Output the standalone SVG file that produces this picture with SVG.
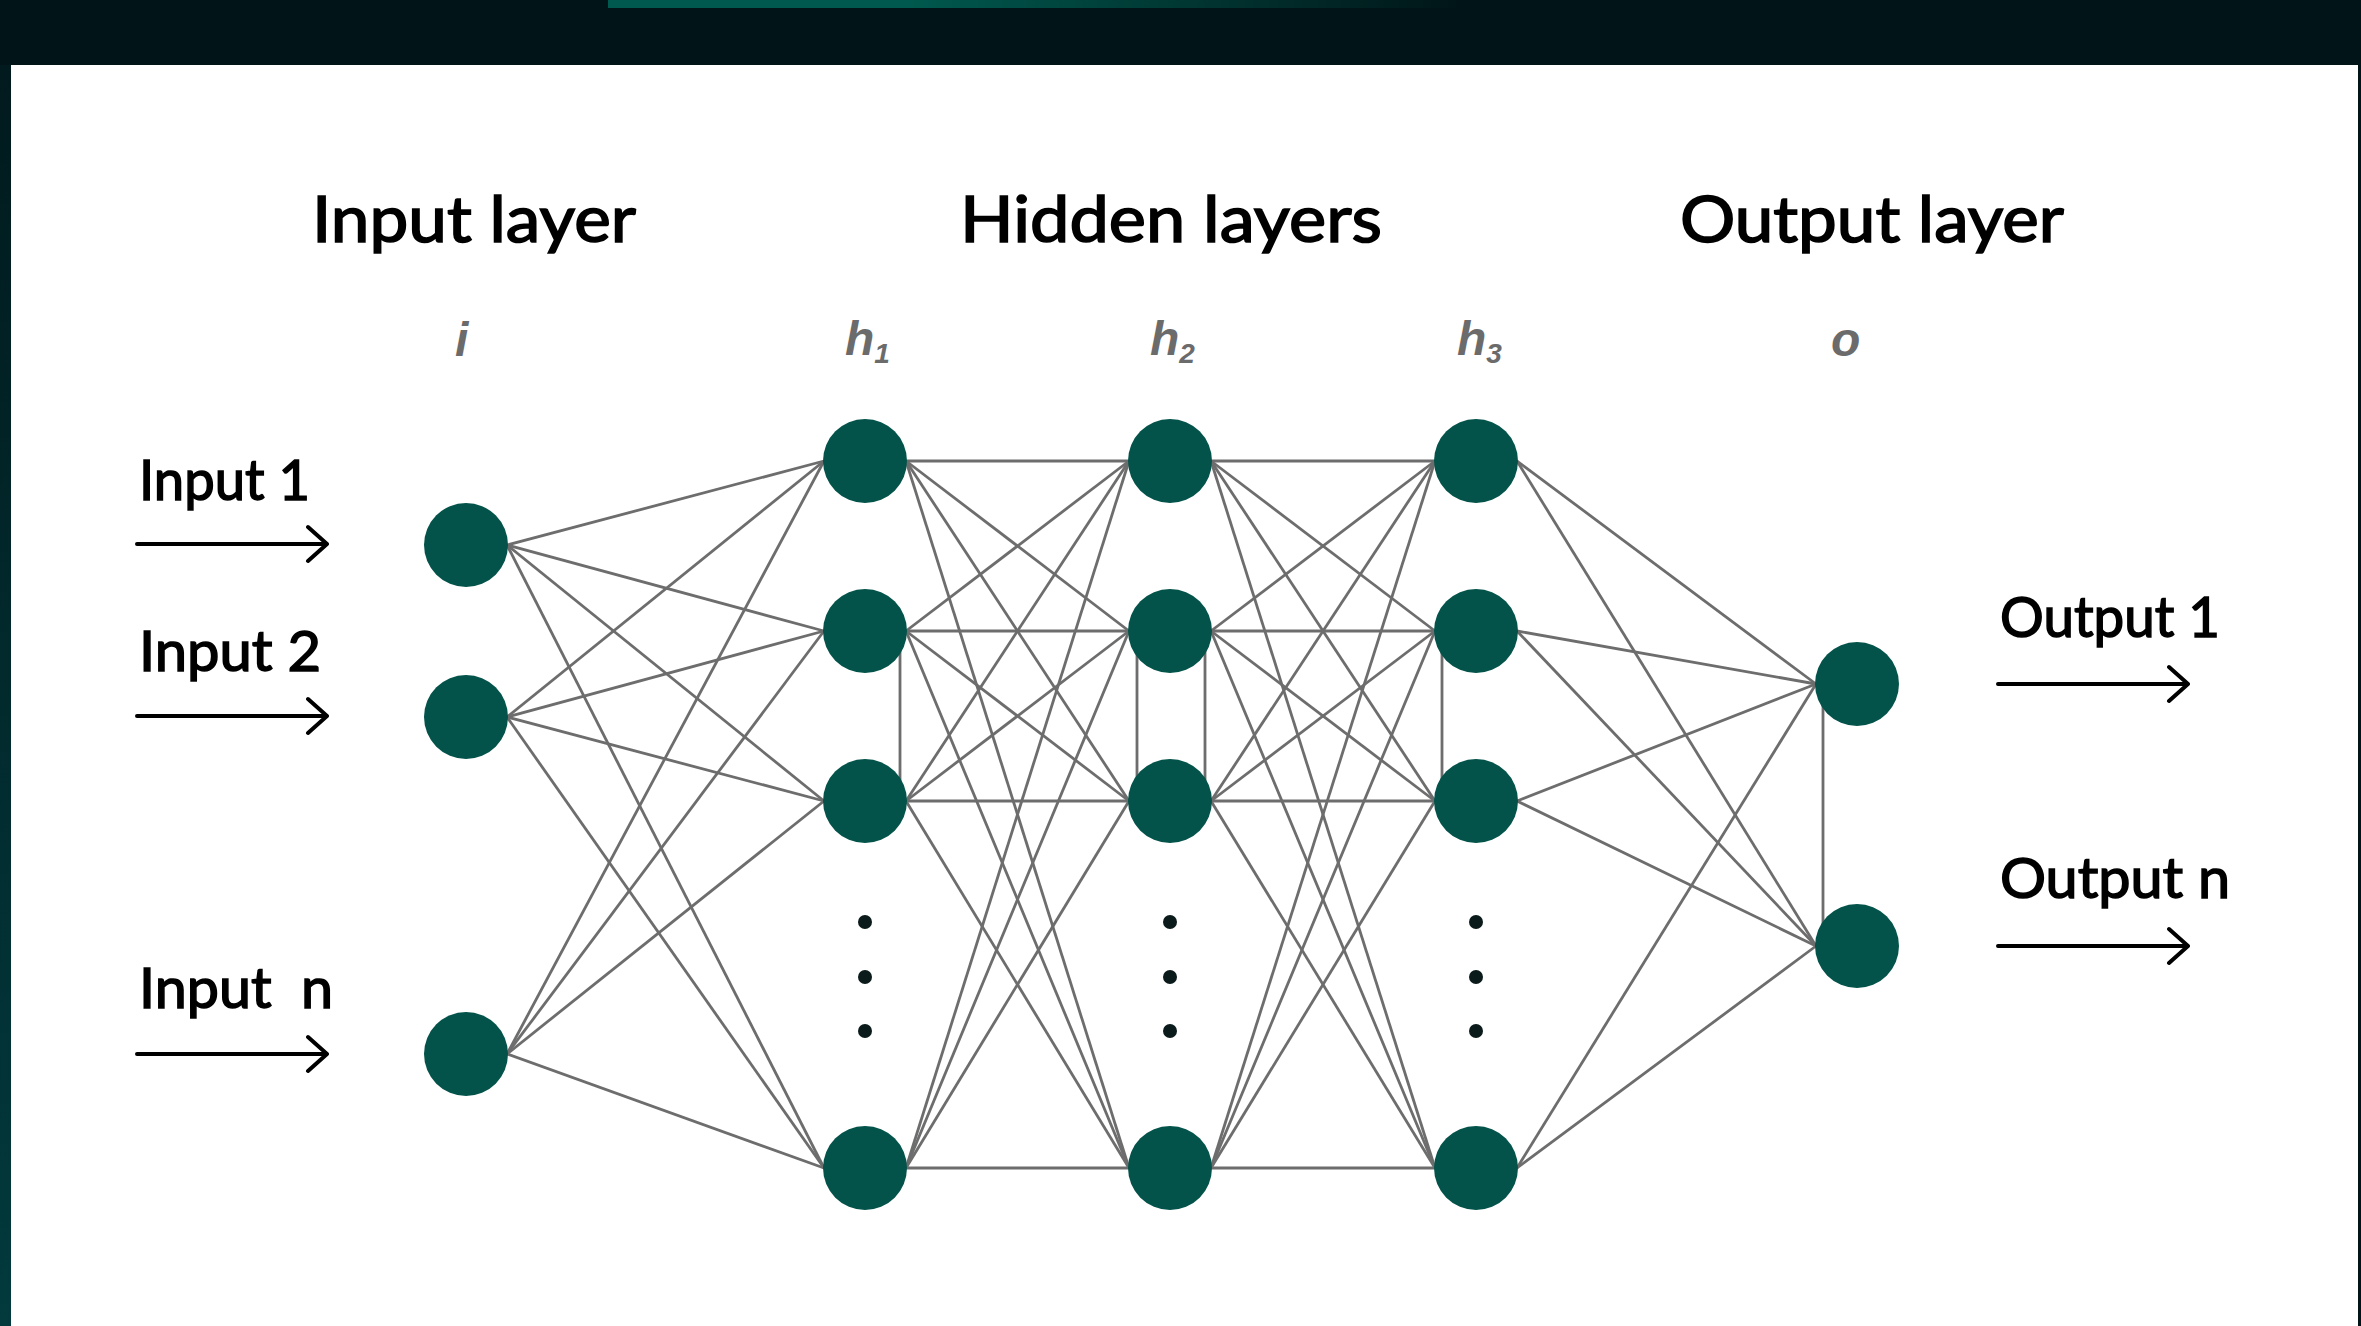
<svg xmlns="http://www.w3.org/2000/svg" width="2361" height="1326" viewBox="0 0 2361 1326">
<defs>
<linearGradient id="topbar" x1="0" y1="0" x2="1" y2="0">
<stop offset="0" stop-color="#00594e"/>
<stop offset="0.35" stop-color="#00594e"/>
<stop offset="1" stop-color="#00594e" stop-opacity="0"/>
</linearGradient>
<linearGradient id="leftstrip" x1="0" y1="0" x2="0" y2="1">
<stop offset="0" stop-color="#011a1d"/>
<stop offset="1" stop-color="#023a3d"/>
</linearGradient>
<style>
.edge{stroke:#6d6d6d;stroke-width:2.8;fill:none}
.node{fill:#03534a}
.dot{fill:#0b1a1a}
.head{font-family:Lato,"Liberation Sans",sans-serif;font-size:64px;fill:#000;stroke:#000;stroke-width:1.6}
.lbl{font-family:Lato,"Liberation Sans",sans-serif;font-size:56px;fill:#000;stroke:#000;stroke-width:1.5}
.sym{font-family:"Liberation Sans",Arial,sans-serif;font-size:48px;font-style:italic;font-weight:bold;fill:#6b6b6b}
.sub{font-size:28px}
.arrow{stroke:#000;stroke-width:4;fill:none;stroke-linecap:round;stroke-linejoin:round}
</style>
</defs>
<rect x="0" y="0" width="2361" height="1326" fill="#011417"/>
<rect x="608" y="0" width="860" height="8" fill="url(#topbar)"/>
<rect x="0" y="65" width="11" height="1261" fill="url(#leftstrip)"/>
<rect x="11" y="65" width="2347" height="1261" fill="#ffffff"/>

<g id="titles">
<text class="head" x="312" y="242" textLength="324" lengthAdjust="spacingAndGlyphs">Input layer</text>
<text class="head" x="960" y="242" textLength="422" lengthAdjust="spacingAndGlyphs">Hidden layers</text>
<text class="head" x="1680" y="242" textLength="384" lengthAdjust="spacingAndGlyphs">Output layer</text>
</g>
<g id="layer-symbols">
<text class="sym" x="455" y="356">i</text>
<text class="sym" x="845" y="355">h<tspan class="sub" dy="8">1</tspan></text>
<text class="sym" x="1150" y="355">h<tspan class="sub" dy="8">2</tspan></text>
<text class="sym" x="1457" y="355">h<tspan class="sub" dy="8">3</tspan></text>
<text class="sym" x="1831" y="356">o</text>
</g>

<g id="connectors">
<line class="edge" x1="507" y1="545" x2="824" y2="461"/>
<line class="edge" x1="507" y1="545" x2="824" y2="631"/>
<line class="edge" x1="507" y1="545" x2="824" y2="801"/>
<line class="edge" x1="507" y1="545" x2="824" y2="1168"/>
<line class="edge" x1="507" y1="717" x2="824" y2="461"/>
<line class="edge" x1="507" y1="717" x2="824" y2="631"/>
<line class="edge" x1="507" y1="717" x2="824" y2="801"/>
<line class="edge" x1="507" y1="717" x2="824" y2="1168"/>
<line class="edge" x1="507" y1="1054" x2="824" y2="461"/>
<line class="edge" x1="507" y1="1054" x2="824" y2="631"/>
<line class="edge" x1="507" y1="1054" x2="824" y2="801"/>
<line class="edge" x1="507" y1="1054" x2="824" y2="1168"/>
<line class="edge" x1="906" y1="461" x2="1129" y2="461"/>
<line class="edge" x1="906" y1="461" x2="1129" y2="631"/>
<line class="edge" x1="906" y1="461" x2="1129" y2="801"/>
<line class="edge" x1="906" y1="461" x2="1129" y2="1168"/>
<line class="edge" x1="906" y1="631" x2="1129" y2="461"/>
<line class="edge" x1="906" y1="631" x2="1129" y2="631"/>
<line class="edge" x1="906" y1="631" x2="1129" y2="801"/>
<line class="edge" x1="906" y1="631" x2="1129" y2="1168"/>
<line class="edge" x1="906" y1="801" x2="1129" y2="461"/>
<line class="edge" x1="906" y1="801" x2="1129" y2="631"/>
<line class="edge" x1="906" y1="801" x2="1129" y2="801"/>
<line class="edge" x1="906" y1="801" x2="1129" y2="1168"/>
<line class="edge" x1="906" y1="1168" x2="1129" y2="461"/>
<line class="edge" x1="906" y1="1168" x2="1129" y2="631"/>
<line class="edge" x1="906" y1="1168" x2="1129" y2="801"/>
<line class="edge" x1="906" y1="1168" x2="1129" y2="1168"/>
<line class="edge" x1="1211" y1="461" x2="1435" y2="461"/>
<line class="edge" x1="1211" y1="461" x2="1435" y2="631"/>
<line class="edge" x1="1211" y1="461" x2="1435" y2="801"/>
<line class="edge" x1="1211" y1="461" x2="1435" y2="1168"/>
<line class="edge" x1="1211" y1="631" x2="1435" y2="461"/>
<line class="edge" x1="1211" y1="631" x2="1435" y2="631"/>
<line class="edge" x1="1211" y1="631" x2="1435" y2="801"/>
<line class="edge" x1="1211" y1="631" x2="1435" y2="1168"/>
<line class="edge" x1="1211" y1="801" x2="1435" y2="461"/>
<line class="edge" x1="1211" y1="801" x2="1435" y2="631"/>
<line class="edge" x1="1211" y1="801" x2="1435" y2="801"/>
<line class="edge" x1="1211" y1="801" x2="1435" y2="1168"/>
<line class="edge" x1="1211" y1="1168" x2="1435" y2="461"/>
<line class="edge" x1="1211" y1="1168" x2="1435" y2="631"/>
<line class="edge" x1="1211" y1="1168" x2="1435" y2="801"/>
<line class="edge" x1="1211" y1="1168" x2="1435" y2="1168"/>
<line class="edge" x1="1517" y1="461" x2="1816" y2="684"/>
<line class="edge" x1="1517" y1="461" x2="1816" y2="946"/>
<line class="edge" x1="1517" y1="631" x2="1816" y2="684"/>
<line class="edge" x1="1517" y1="631" x2="1816" y2="946"/>
<line class="edge" x1="1517" y1="801" x2="1816" y2="684"/>
<line class="edge" x1="1517" y1="801" x2="1816" y2="946"/>
<line class="edge" x1="1517" y1="1168" x2="1816" y2="684"/>
<line class="edge" x1="1517" y1="1168" x2="1816" y2="946"/>
<line class="edge" x1="900" y1="631" x2="900" y2="801"/>
<line class="edge" x1="1137" y1="631" x2="1137" y2="801"/>
<line class="edge" x1="1205" y1="631" x2="1205" y2="801"/>
<line class="edge" x1="1442" y1="631" x2="1442" y2="801"/>
<line class="edge" x1="1823" y1="684" x2="1823" y2="946"/>
</g>

<g id="input-1"><text class="lbl" x="139" y="500" textLength="171" lengthAdjust="spacingAndGlyphs">Input 1</text><path class="arrow" d="M137 544H327M308 527L327 544L308 561"/><circle class="node" cx="466" cy="545" r="42"/></g>
<g id="input-2"><text class="lbl" x="139" y="671" textLength="182" lengthAdjust="spacingAndGlyphs">Input 2</text><path class="arrow" d="M137 716H327M308 699L327 716L308 733"/><circle class="node" cx="466" cy="717" r="42"/></g>
<g id="input-n"><text class="lbl" x="139" y="1008" textLength="194" lengthAdjust="spacingAndGlyphs" xml:space="preserve">Input  n</text><path class="arrow" d="M137 1054H327M308 1037L327 1054L308 1071"/><circle class="node" cx="466" cy="1054" r="42"/></g>

<g id="h1-1"><circle class="node" cx="865" cy="461" r="42"/></g>
<g id="h1-2"><circle class="node" cx="865" cy="631" r="42"/></g>
<g id="h1-3"><circle class="node" cx="865" cy="801" r="42"/></g>
<g id="h1-n"><circle class="node" cx="865" cy="1168" r="42"/></g>
<g id="h2-1"><circle class="node" cx="1170" cy="461" r="42"/></g>
<g id="h2-2"><circle class="node" cx="1170" cy="631" r="42"/></g>
<g id="h2-3"><circle class="node" cx="1170" cy="801" r="42"/></g>
<g id="h2-n"><circle class="node" cx="1170" cy="1168" r="42"/></g>
<g id="h3-1"><circle class="node" cx="1476" cy="461" r="42"/></g>
<g id="h3-2"><circle class="node" cx="1476" cy="631" r="42"/></g>
<g id="h3-3"><circle class="node" cx="1476" cy="801" r="42"/></g>
<g id="h3-n"><circle class="node" cx="1476" cy="1168" r="42"/></g>

<g id="ellipsis">
<circle class="dot" cx="865" cy="922" r="7"/><circle class="dot" cx="865" cy="977" r="7"/><circle class="dot" cx="865" cy="1031" r="7"/>
<circle class="dot" cx="1170" cy="922" r="7"/><circle class="dot" cx="1170" cy="977" r="7"/><circle class="dot" cx="1170" cy="1031" r="7"/>
<circle class="dot" cx="1476" cy="922" r="7"/><circle class="dot" cx="1476" cy="977" r="7"/><circle class="dot" cx="1476" cy="1031" r="7"/>
</g>

<g id="output-1"><circle class="node" cx="1857" cy="684" r="42"/><text class="lbl" x="2000" y="637" textLength="220" lengthAdjust="spacingAndGlyphs">Output 1</text><path class="arrow" d="M1998 684H2188M2169 667L2188 684L2169 701"/></g>
<g id="output-n"><circle class="node" cx="1857" cy="946" r="42"/><text class="lbl" x="2000" y="898" textLength="230" lengthAdjust="spacingAndGlyphs">Output n</text><path class="arrow" d="M1998 946H2188M2169 929L2188 946L2169 963"/></g>
</svg>
